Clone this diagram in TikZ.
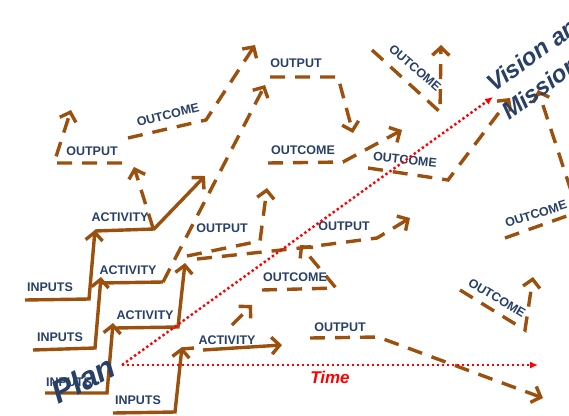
\documentclass[tikz,border=0pt]{standalone}
\usepackage{fontspec}
\setmainfont{Liberation Sans}
\usetikzlibrary{arrows.meta,positioning}
\definecolor{arrbrown}{RGB}{156,80,14}
\definecolor{lblblue}{RGB}{40,64,102}

\begin{document}
\begin{tikzpicture}[x=1pt,y=-1pt,
    >={Straight Barb[length=8pt,width=17pt]},
    lbl/.style={text=lblblue,font=\bfseries\fontsize{12.5}{14}\selectfont,inner sep=1pt},
    big/.style={text=lblblue,font=\bfseries\itshape\fontsize{#1}{#1}\selectfont,inner sep=0pt,anchor=base west},
    solidarr/.style={draw=arrbrown,line width=3.4pt},
    dasharr/.style={draw=arrbrown,line width=3.4pt,dash pattern=on 15pt off 10pt},
    reddot/.style={draw=red,line width=2.4pt,dash pattern=on 2.4pt off 2.6pt,-{Latex[length=8pt,width=7pt]}}]
\useasboundingbox (0,0) rectangle (569,415);

% staircases
\draw[solidarr,->] (25,300) -- (89,299) -- (95,230);
\draw[solidarr,->] (95,231) -- (154,229) -- (205,176);
\draw[solidarr,->] (33,350) -- (95,348) -- (101,277);
\draw[solidarr] (101,283) -- (163,282);
\draw[solidarr,->] (45,393) -- (107,393) -- (113,323);
\draw[solidarr,->] (115,328) -- (178,327) -- (185,263);
\draw[solidarr,->] (113,413) -- (175,412) -- (182,347);
\draw[solidarr] (182,349) -- (194,348);
\draw[solidarr,->] (203,350) -- (282,345);

% outputs and outcomes
\draw[dasharr,->] (153,228) -- (134,167);
\draw[dasharr,->] (122,163) -- (54,163) -- (71,110);
\draw[dasharr,->] (128,138) -- (206,120) -- (255,45);
\draw[dasharr,->] (163,282) -- (265,85);
\draw[dasharr,->] (270,77) -- (338,77) -- (353,133);
\draw[dasharr,->] (268,163) -- (343,162) -- (402,130);
\draw[dasharr,->] (187,256) -- (260,241) -- (267,188);
\draw[dasharr,->] (197,259) -- (300,248) -- (377,238) -- (410,218);
\draw[dasharr,->] (262,290) -- (336,288) -- (300,245);
\draw[dasharr,->] (232,325) -- (252,305);
\draw[dasharr,->] (372,50) -- (440,112) -- (441,45);
\draw[dasharr,->] (368,168) -- (448,180) -- (510,98);
\draw[dasharr,->] (505,238) -- (578,212) -- (538,90);
\draw[dasharr,->] (460,290) -- (525,330) -- (533,277);
\draw[dasharr,->] (310,338) -- (378,337) -- (543,398);

% labels
\node[lbl] (out1) at (92,151) {OUTPUT};
\node[lbl,rotate=14] (oc1) at (168,115) {OUTCOME};
\node[lbl] (out2) at (296,63) {OUTPUT};
\node[lbl,rotate=-41] (oc2) at (415,68) {OUTCOME};
\node[lbl] (oc3) at (303,150) {OUTCOME};
\node[lbl,rotate=-6] (oc4) at (405,160) {OUTCOME};
\node[lbl] (act1) at (120,217) {ACTIVITY};
\node[lbl] (out3) at (222,228) {OUTPUT};
\node[lbl] (out4) at (344,226) {OUTPUT};
\node[lbl,rotate=18] (oc5) at (536,214) {OUTCOME};
\node[lbl] (in1) at (50,287) {INPUTS};
\node[lbl] (act2) at (128,270) {ACTIVITY};
\node[lbl] (oc6) at (295,277) {OUTCOME};
\node[lbl] (in2) at (60,337) {INPUTS};
\node[lbl] (act3) at (145,315) {ACTIVITY};
\node[lbl,rotate=-31] (oc7) at (497,298) {OUTCOME};
\node[lbl] (act4) at (227,340) {ACTIVITY};
\node[lbl] (out5) at (340,327) {OUTPUT};
\node[lbl] (in3) at (69,382) {INPUTS};
\node[lbl] (in4) at (138,400) {INPUTS};

% plan, time, vision
\coordinate (plan) at (122,365);
\draw[reddot] (plan) -- (538,365);
\draw[reddot] (plan) -- (493,97);
\node[text=red,font=\bfseries\itshape\fontsize{17}{19}\selectfont] (time) at (330,377) {Time};
\node[big=32,rotate=27] (pl) at (58,405) {Plan};
\node[big=24,rotate=36] (visa) at (494,93) {Vision and};
\node[big=24,rotate=36] (visb) at (509,121) {Mission};
\end{tikzpicture}
\end{document}
